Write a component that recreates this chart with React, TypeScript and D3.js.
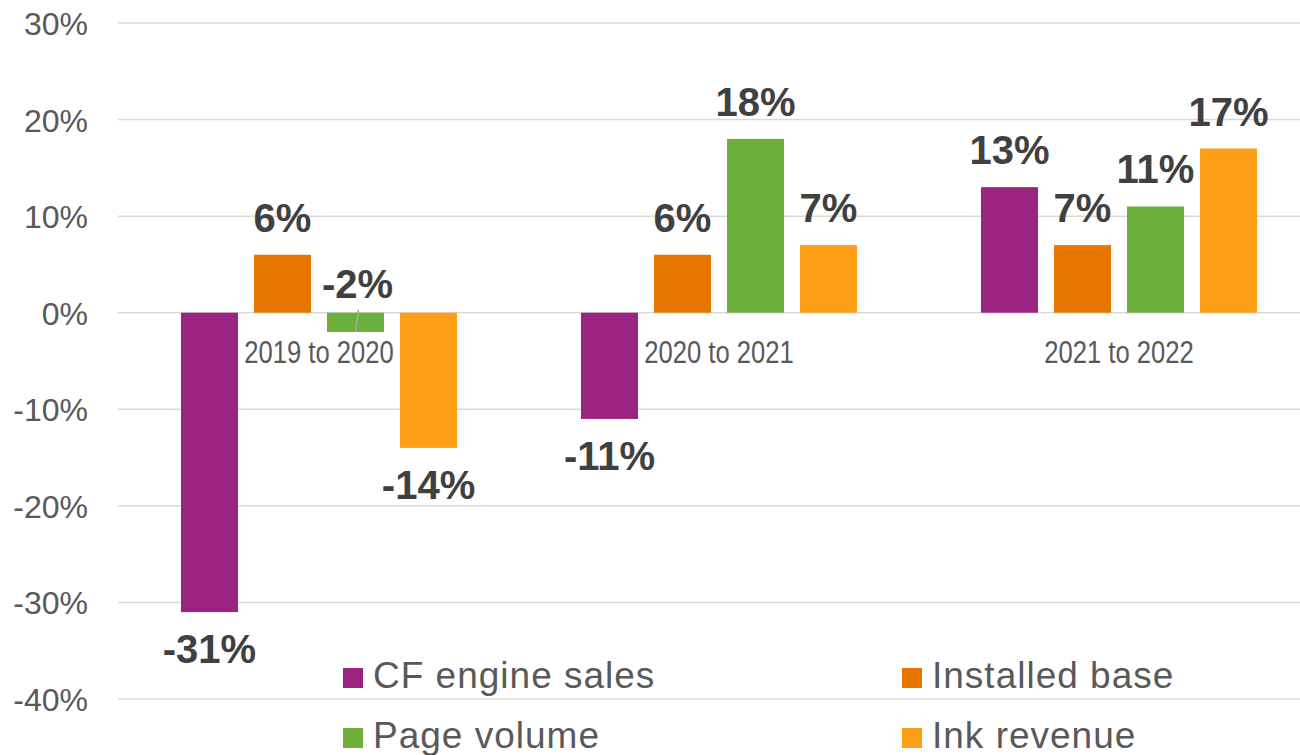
import React from "react";
import * as d3 from "d3";

const categories = ["2019 to 2020", "2020 to 2021", "2021 to 2022"];
const seriesNames = ["CF engine sales", "Installed base", "Page volume", "Ink revenue"];
const cfEngineSales = [-31, -11, 13];
const installedBase = [6, 6, 7];
const pageVolume = [-2, 18, 11];
const inkRevenue = [-14, 7, 17];
const yTicks = [30, 20, 10, 0, -10, -20, -30, -40];
const colors = ["#9B2481", "#E67600", "#6CAF3C", "#FD9E18"];

const W = 1300;
const H = 755;

export default function App() {
  const series = [cfEngineSales, installedBase, pageVolume, inkRevenue];
  const y = d3.scaleLinear().domain([-40, 30]).range([699, 23]);
  const x0 = d3.scaleBand<string>().domain(categories).range([119, 1319]).padding(0);
  const x1 = d3
    .scaleBand<string>()
    .domain(seriesNames)
    .range([0, x0.bandwidth()])
    .paddingInner(0.219)
    .paddingOuter(0.849);
  const fmt = (v: number) => `${v}%`;
  const gridColor = "#D9D9D9";
  const textColor = "#595959";
  const labelColor = "#404040";

  return (
    <svg
      width={W}
      height={H}
      style={{ position: "absolute", left: 0, top: 0, background: "#fff" }}
      fontFamily="'Liberation Sans', Arial, sans-serif"
    >
      <rect width={W} height={H} fill="#fff" />
      {yTicks.map((t) => (
        <g key={t}>
          <line x1={118} x2={1319} y1={y(t)} y2={y(t)} stroke={gridColor} strokeWidth={1.5} />
          <text x={88} y={y(t) + 12} textAnchor="end" fontSize={32} fill={textColor}>
            {fmt(t)}
          </text>
        </g>
      ))}
      {categories.map((c, ci) => (
        <g key={c}>
          {series.map((vals, si) => {
            const v = vals[ci];
            const bx = (x0(c) as number) + (x1(seriesNames[si]) as number);
            const bw = x1.bandwidth();
            const top = Math.min(y(v), y(0));
            const h = Math.abs(y(v) - y(0));
            return (
              <rect key={si} x={bx} y={top} width={bw} height={h} fill={colors[si]} />
            );
          })}
        </g>
      ))}
      {categories.map((c) => (
        <text
          key={c}
          transform={`translate(${(x0(c) as number) + x0.bandwidth() / 2},${y(0) + 50}) scale(0.8,1)`}
          textAnchor="middle"
          fontSize={32}
          fill={textColor}
        >
          {c}
        </text>
      ))}
      {categories.map((c, ci) =>
        series.map((vals, si) => {
          const v = vals[ci];
          const cx = (x0(c) as number) + (x1(seriesNames[si]) as number) + x1.bandwidth() / 2;
          const small = v < 0 && Math.abs(v) < 5;
          let ly: number;
          if (small) ly = y(0) - 15;
          else if (v >= 0) ly = y(v) - 23;
          else ly = y(v) + 51;
          return (
            <g key={`${ci}-${si}`}>
              {small && (
                <line
                  x1={cx + 3}
                  y1={y(0) - 3}
                  x2={cx}
                  y2={y(v)}
                  stroke="#A6A6A6"
                  strokeWidth={1.5}
                />
              )}
              <text
                x={cx + (small ? 2 : 0)}
                y={ly}
                textAnchor="middle"
                fontSize={40}
                fontWeight="bold"
                fill={labelColor}
              >
                {fmt(v)}
              </text>
            </g>
          );
        })
      )}
      {seriesNames.map((s, si) => {
        const col = si % 2;
        const row = Math.floor(si / 2);
        const lx = col === 0 ? 343 : 902;
        const ly = 668 + row * 60;
        return (
          <g key={s}>
            <rect x={lx} y={ly} width={20} height={20} fill={colors[si]} />
            <text
              x={lx + 30}
              y={ly + 20}
              fontSize={37}
              letterSpacing={1}
              fill={textColor}
            >
              {s}
            </text>
          </g>
        );
      })}
    </svg>
  );
}
